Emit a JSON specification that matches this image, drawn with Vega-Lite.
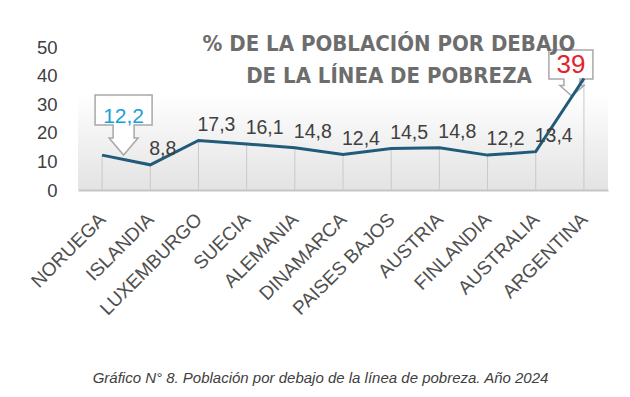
{
  "$schema": "https://vega.github.io/schema/vega-lite/v6.json",
  "width": 530,
  "height": 143,
  "autosize": {"type": "none"},
  "padding": {"left": 78, "top": 47, "right": 22, "bottom": 207},
  "background": "white",
  "config": {
    "view": {
      "stroke": null,
      "fill": {
        "gradient": "linear", "x1": 0, "y1": 0, "x2": 0, "y2": 1,
        "stops": [
          {"offset": 0, "color": "#ffffff"},
          {"offset": 0.32, "color": "#ffffff"},
          {"offset": 1, "color": "#e3e3e3"}
        ]
      }
    },
    "locale": {"number": {"decimal": ",", "thousands": ".", "grouping": [3], "currency": ["", " €"]}}
  },
  "title": {
    "text": ["% DE LA POBLACIÓN POR DEBAJO", "DE LA LÍNEA DE POBREZA"],
    "font": "DejaVu Sans Condensed",
    "fontWeight": "bold",
    "fontSize": 22,
    "color": "#6d6d6d",
    "anchor": "middle",
    "frame": "group",
    "dx": 46,
    "dy": 54,
    "lineHeight": 32,
    "offset": 4
  },
  "data": {
    "values": [
      {"pais": "NORUEGA", "valor": 12.2},
      {"pais": "ISLANDIA", "valor": 8.8},
      {"pais": "LUXEMBURGO", "valor": 17.3},
      {"pais": "SUECIA", "valor": 16.1},
      {"pais": "ALEMANIA", "valor": 14.8},
      {"pais": "DINAMARCA", "valor": 12.4},
      {"pais": "PAISES BAJOS", "valor": 14.5},
      {"pais": "AUSTRIA", "valor": 14.8},
      {"pais": "FINLANDIA", "valor": 12.2},
      {"pais": "AUSTRALIA", "valor": 13.4},
      {"pais": "ARGENTINA", "valor": 39}
    ]
  },
  "encoding": {
    "x": {
      "field": "pais", "type": "nominal", "sort": null,
      "scale": {"type": "point", "padding": 0.5},
      "axis": {
        "labelAngle": -45, "labelAlign": "right", "labelBaseline": "middle",
        "labelFont": "Liberation Sans", "labelFontSize": 19, "labelColor": "#505050",
        "labelPadding": 26, "ticks": false, "domainColor": "#c6c6c6", "domainWidth": 2,
        "grid": false, "labelOverlap": false,
        "title": "Gráfico N° 8. Población por debajo de la línea de pobreza. Año 2024",
        "titleFont": "Liberation Sans", "titleFontStyle": "italic", "titleFontWeight": "normal",
        "titleFontSize": 15, "titleColor": "#404040", "titleX": 242, "titleY": 192,
        "titleAlign": "center", "titleBaseline": "alphabetic"
      }
    },
    "y": {
      "field": "valor", "type": "quantitative",
      "scale": {"domain": [0, 50], "nice": false},
      "axis": {
        "values": [0, 10, 20, 30, 40, 50], "domain": false, "ticks": false, "grid": false,
        "labelFont": "Liberation Sans", "labelFontSize": 18.5, "labelColor": "#404040",
        "labelPadding": 21, "title": null, "labelOverlap": false
      }
    }
  },
  "layer": [
    {
      "mark": {"type": "bar", "size": 1, "color": "#c9c9c9"},
      "encoding": {}
    },
    {
      "transform": [{"filter": "datum.pais === 'NORUEGA'"}],
      "mark": {
        "type": "point",
        "shape": "M -7 -60 L 50 -60 L 50 -30 L 32 -30 L 32 -17 L 36 -17 L 21.5 0 L 7 -17 L 11 -17 L 11 -30 L -7 -30 Z",
        "size": 4, "filled": true, "fill": "#ffffff", "stroke": "#a8a8a8", "strokeWidth": 1.5, "opacity": 1
      },
      "encoding": {}
    },
    {
      "transform": [{"filter": "datum.pais === 'ARGENTINA'"}],
      "mark": {
        "type": "point",
        "shape": "M -35 -28.5 L 9 -28.5 L 9 0.5 L -4 0.5 L -4 7 L 0 7 L -12 17.5 L -24 7 L -20 7 L -20 0.5 L -35 0.5 Z",
        "size": 4, "filled": true, "fill": "#ffffff", "stroke": "#a8a8a8", "strokeWidth": 1.5, "opacity": 1
      },
      "encoding": {}
    },
    {
      "mark": {"type": "line", "color": "#215b79", "strokeWidth": 3},
      "encoding": {}
    },
    {
      "transform": [{"filter": "datum.pais !== 'NORUEGA' && datum.pais !== 'ARGENTINA'"}],
      "mark": {"type": "text", "align": "left", "baseline": "alphabetic", "dx": -1, "dy": -10, "font": "Liberation Sans", "fontSize": 19.5, "color": "#404040"},
      "encoding": {
        "text": {"field": "valor", "type": "quantitative", "format": ".1f"}
      }
    },
    {
      "transform": [{"filter": "datum.pais === 'NORUEGA'"}],
      "mark": {"type": "text", "align": "center", "baseline": "alphabetic", "dx": 21.5, "dy": -32.5, "font": "Liberation Sans", "fontSize": 21, "color": "#17a1db"},
      "encoding": {
        "text": {"field": "valor", "type": "quantitative", "format": ".1f"}
      }
    },
    {
      "transform": [{"filter": "datum.pais === 'ARGENTINA'"}],
      "mark": {"type": "text", "align": "center", "baseline": "alphabetic", "dx": -13, "dy": -5.5, "font": "Liberation Sans", "fontSize": 26, "color": "#e3242b"},
      "encoding": {
        "text": {"field": "valor", "type": "quantitative", "format": ".0f"}
      }
    }
  ]
}
